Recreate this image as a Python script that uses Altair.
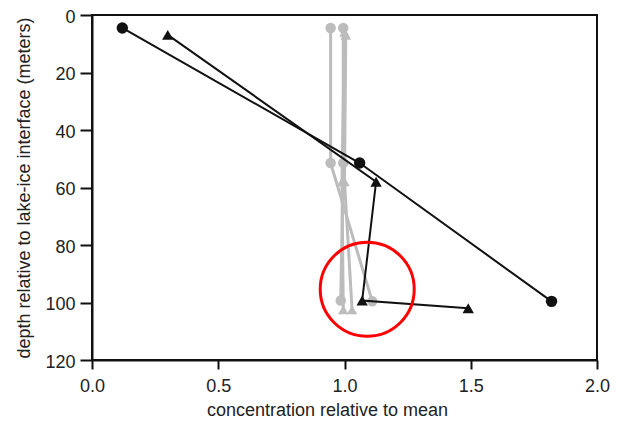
import altair as alt
import pandas as pd

# series values
bc_conc = [0.12, 1.06, 1.82]
bc_depth = [4.5, 51.5, 99.6]
bt_conc = [0.30, 1.125, 1.07, 1.49]
bt_depth = [6.9, 58.0, 99.3, 102.0]
gca_conc = [0.945, 0.945, 1.11]
gca_depth = [4.5, 51.5, 99.6]
gcb_conc = [0.995, 0.995, 0.985]
gcb_depth = [4.5, 51.5, 99.3]
gta_conc = [1.0, 0.99, 0.995]
gta_depth = [6.0, 58.0, 102.5]
gtb_conc = [1.005, 1.0, 1.03]
gtb_depth = [7.0, 58.0, 102.5]

# annotation (red circle) centre
ann_conc = [1.09]
ann_depth = [95.4]

x_ticks = [0.0, 0.5, 1.0, 1.5, 2.0]
y_ticks = [0, 20, 40, 60, 80, 100, 120]


def frame(name, conc, depth, tone, shape):
    return pd.DataFrame({
        "series": name, "conc": conc, "depth": depth,
        "tone": tone, "shape": shape, "order": list(range(len(conc))),
    })


df = pd.concat([
    frame("gca", gca_conc, gca_depth, "gray", "circle"),
    frame("gcb", gcb_conc, gcb_depth, "gray", "circle"),
    frame("gta", gta_conc, gta_depth, "gray", "triangle-up"),
    frame("gtb", gtb_conc, gtb_depth, "gray", "triangle-up"),
    frame("bc", bc_conc, bc_depth, "black", "circle"),
    frame("bt", bt_conc, bt_depth, "black", "triangle-up"),
], ignore_index=True)

gray_df = df[df.tone == "gray"]
black_df = df[df.tone == "black"]
ann_df = pd.DataFrame({"conc": ann_conc, "depth": ann_depth})

FONT = "Liberation Sans"

xs = alt.Scale(domain=[0, 2], nice=False, zero=False)
ys = alt.Scale(domain=[0, 120], reverse=True, nice=False)

x_enc = alt.X("conc:Q", scale=xs, axis=alt.Axis(
    title="concentration relative to mean", values=x_ticks, format=".1f",
    tickSize=9, labelPadding=8, titlePadding=6, titleX=235, labelFlush=False))
y_enc = alt.Y("depth:Q", scale=ys, axis=alt.Axis(
    title="depth relative to lake-ice interface (meters)", values=y_ticks,
    format="d", tickSize=12, labelPadding=5, titlePadding=11,
    labelFlush=False, labelOffset=2))

shape_scale = alt.Scale(domain=["circle", "triangle-up"], range=["circle", "triangle-up"])


def layer(d, color, lw, size):
    base = alt.Chart(d)
    line = base.mark_line(color=color, strokeWidth=lw).encode(
        x=x_enc, y=y_enc, detail="series:N", order="order:Q")
    pts = base.mark_point(filled=True, color=color, opacity=1, size=size).encode(
        x="conc:Q", y="depth:Q",
        shape=alt.Shape("shape:N", scale=shape_scale, legend=None))
    return line + pts


gray = layer(gray_df, "#bcbcbc", 3, 110)
black = layer(black_df, "#111111", 2, 130)

ann = alt.Chart(ann_df).mark_point(
    shape="circle", filled=False, color="#ff0000", strokeWidth=3, size=8836, opacity=1
).encode(x="conc:Q", y="depth:Q")

chart = alt.layer(gray, black, ann).properties(
    width=505, height=345,
    autosize=alt.AutoSizeParams(type="none"),
    padding={"left": 84, "top": 7, "right": 14, "bottom": 58},
).configure_view(
    stroke="#111111", strokeWidth=2
).configure_axis(
    grid=False, domainColor="#111111", domainWidth=2, tickColor="#111111",
    tickWidth=2, labelFont=FONT, titleFont=FONT, labelFontSize=18,
    titleFontSize=18, titleFontWeight="normal", labelColor="#222222",
    titleColor="#222222",
)

chart.save("out.html", embed_options={"renderer": "svg", "actions": False})
